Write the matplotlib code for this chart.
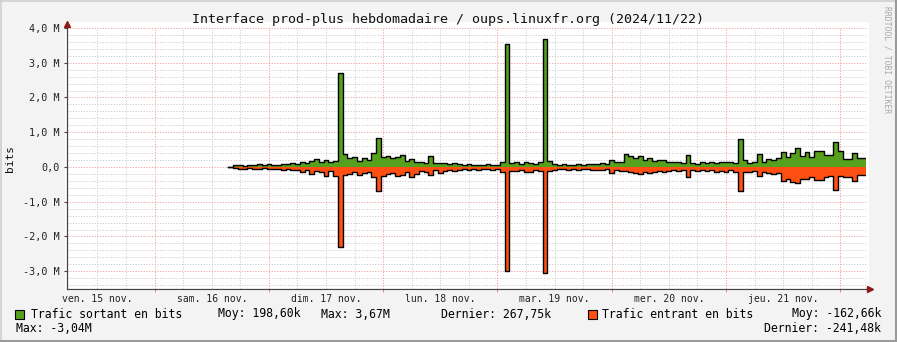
import numpy as np
import matplotlib
matplotlib.use("Agg")
import matplotlib.pyplot as plt
from matplotlib.patches import Rectangle

plt.rcParams['font.family'] = ['DejaVu Sans Mono']

# trafic en kbit/s, un point par heure, a partir du sam. 16 nov. 15h30
debut_h = 15.5   # heures depuis sam. 16 nov. 00:00
sortant = [10, 50, 60, 40, 70, 60, 80, 60, 90, 70,
           60, 100, 80, 120, 100, 150, 120, 180, 230, 150,
           200, 130, 170, 2700, 370, 250, 300, 180, 250, 200,
           400, 820, 280, 330, 250, 300, 340, 180, 220, 150,
           130, 120, 330, 120, 110, 120, 100, 110, 90, 70,
           80, 60, 70, 60, 80, 60, 70, 150, 3550, 110,
           130, 100, 140, 110, 90, 130, 3670, 160, 90, 60,
           80, 70, 60, 80, 70, 90, 100, 80, 110, 100,
           200, 130, 150, 360, 330, 270, 310, 200, 260, 180,
           210, 190, 150, 130, 140, 120, 350, 120, 100, 140,
           110, 150, 120, 150, 130, 140, 120, 800, 200, 110,
           140, 370, 140, 230, 200, 250, 420, 290, 400, 540,
           320, 420, 300, 450, 450, 350, 350, 720, 470, 220,
           230, 410, 250, 268]
entrant = [10, 40, 50, 60, 40, 50, 60, 40, 70, 60,
           50, 80, 60, 80, 100, 140, 80, 200, 120, 150,
           250, 120, 260, 2300, 230, 200, 150, 220, 160, 140,
           300, 700, 250, 200, 180, 250, 220, 150, 280, 200,
           120, 150, 230, 100, 180, 120, 100, 120, 90, 70,
           100, 60, 80, 60, 70, 80, 50, 130, 3000, 120,
           110, 100, 140, 130, 90, 120, 3040, 120, 80, 70,
           60, 80, 70, 90, 70, 60, 100, 80, 90, 70,
           170, 100, 110, 120, 150, 160, 200, 130, 180, 150,
           120, 140, 110, 100, 120, 100, 300, 90, 110, 80,
           120, 100, 140, 110, 130, 100, 150, 700, 150, 130,
           120, 260, 150, 170, 200, 180, 390, 350, 430, 470,
           340, 360, 300, 370, 380, 300, 250, 660, 250, 300,
           280, 390, 230, 241]

jours = ["ven. 15 nov.", "sam. 16 nov.", "dim. 17 nov.", "lun. 18 nov.",
         "mar. 19 nov.", "mer. 20 nov.", "jeu. 21 nov."]
jours_h = [-12, 12, 36, 60, 84, 108, 132]
yticks = [-3, -2, -1, 0, 1, 2, 3, 4]
ylabels = ["-3,0 M", "-2,0 M", "-1,0 M", "0,0", "1,0 M", "2,0 M", "3,0 M", "4,0 M"]

titre = "Interface prod-plus hebdomadaire / oups.linuxfr.org (2024/11/22)"

W, H = 897, 342
fig = plt.figure(figsize=(W / 100, H / 100), dpi=100)
fig.patch.set_facecolor('#F3F3F3')

def fx(px):
    return px / W

def fy(py):
    return 1 - py / H

# fond blanc du canevas (derriere les axes)
canevas = fig.add_axes([fx(65), fy(291), fx(869) - fx(65), fy(22) - fy(291)], zorder=-5)
canevas.axis('off')
canevas.add_patch(Rectangle((0, 0), 1, 1, transform=canevas.transAxes, facecolor='white', edgecolor='none'))

# cadre
fig.add_artist(plt.Line2D([0, 1], [fy(0.5), fy(0.5)], transform=fig.transFigure, color='#D0D0D0', lw=1.2))
fig.add_artist(plt.Line2D([fx(0.5), fx(0.5)], [0, 1], transform=fig.transFigure, color='#D0D0D0', lw=1.2))
fig.add_artist(plt.Line2D([0, 1], [fy(341), fy(341)], transform=fig.transFigure, color='#9A9A9A', lw=1.5))
fig.add_artist(plt.Line2D([fx(896), fx(896)], [0, 1], transform=fig.transFigure, color='#9A9A9A', lw=1.5))

xmin, xmax = -18.4, 149.4
ymin, ymax = -3.5, 4.0
ax = fig.add_axes([fx(67), fy(288.6), fx(866) - fx(67), fy(28) - fy(288.6)])
ax.set_xlim(xmin, xmax)
ax.set_ylim(ymin, ymax)
ax.set_facecolor('white')
for s in ['top', 'right']:
    ax.spines[s].set_visible(False)
for s in ['left', 'bottom']:
    ax.spines[s].set_color('#444444')
    ax.spines[s].set_linewidth(0.9)

# grille
dots = (0, (1.2, 1.6))
for v in np.arange(-3.4, 4.01, 0.2):
    if abs(v - round(v)) > 1e-6:
        ax.axhline(v, color='#CDCDCD', lw=0.7, ls=dots, zorder=1)
for h in np.arange(-12, xmax, 6):
    if h % 24 != 0:
        ax.axvline(h, color='#CDCDCD', lw=0.7, ls=dots, zorder=1)
for v in yticks:
    ax.axhline(v, color='#F2A0A0', lw=0.7, ls=dots, zorder=1.5)
for h in np.arange(0, xmax, 24):
    ax.axvline(h, color='#F2A0A0', lw=0.7, ls=dots, zorder=1.5)

# donnees
out_m = np.array(sortant) / 1000.0
in_m = -np.array(entrant) / 1000.0
t = debut_h + np.arange(len(out_m) + 1)
out_e = np.append(out_m, out_m[-1])
in_e = np.append(in_m, in_m[-1])
ax.fill_between(t, 0, out_e, step='post', color='#55A01C', lw=0, zorder=2)
ax.fill_between(t, 0, in_e, step='post', color='#FF4F12', lw=0, zorder=2)
ax.step(t, out_e, where='post', color='black', lw=1.0, zorder=3)
ax.step(t, in_e, where='post', color='black', lw=1.0, zorder=3)

# axes
ax.set_yticks(yticks)
ax.set_yticklabels(ylabels, fontsize=7.3, color='#222222')
ax.set_xticks(jours_h)
ax.set_xticklabels(jours, fontsize=7.0, color='#222222')
ax.set_xticks(np.arange(0, xmax, 24), minor=True)
ax.tick_params(axis='y', length=2.5, width=0.8, color='#444444', pad=2.5)
ax.tick_params(axis='x', which='major', length=0, pad=4)
ax.tick_params(axis='x', which='minor', length=2.5, width=0.7, color='#F08080')
ax.plot([xmin], [ymax + 0.12], marker='^', ms=4, color='#8B1A1A', clip_on=False, zorder=5)
ax.plot([xmax + 0.9], [ymin], marker='>', ms=4, color='#8B1A1A', clip_on=False, zorder=5)
ax.plot([xmin, xmin], [ymax, ymax + 0.12], color='#444444', lw=0.9, clip_on=False)
ax.plot([xmax, xmax + 0.9], [ymin, ymin], color='#444444', lw=0.9, clip_on=False)

# textes
fig.text(fx(448), fy(19.5), titre, ha='center', va='center', fontsize=9.6, color='#111111')
fig.text(fx(10), fy(158), "bits", rotation=90, ha='center', va='center', fontsize=8, color='#111111')
fig.text(fx(887), fy(60), "RRDTOOL / TOBI OETIKER", rotation=270, ha='center', va='center',
         fontsize=5.8, color='#A8A8A8')

# legende
lg = 8.3
y1, y2 = fy(314), fy(328)
fig.patches.append(Rectangle((fx(15), fy(318.5)), fx(9), fy(309.5) - fy(318.5), transform=fig.transFigure,
                             facecolor='#55A01C', edgecolor='black', lw=0.8))
fig.patches.append(Rectangle((fx(588), fy(318.5)), fx(9), fy(309.5) - fy(318.5), transform=fig.transFigure,
                             facecolor='#FF4F12', edgecolor='black', lw=0.8))
fig.text(fx(31), y1, "Trafic sortant en bits", va='center', fontsize=lg)
fig.text(fx(218), y1, "Moy: 198,60k", va='center', fontsize=lg)
fig.text(fx(321), y1, "Max: 3,67M", va='center', fontsize=lg)
fig.text(fx(441), y1, "Dernier: 267,75k", va='center', fontsize=lg)
fig.text(fx(602), y1, "Trafic entrant en bits", va='center', fontsize=lg)
fig.text(fx(881), y1, "Moy: -162,66k", ha='right', va='center', fontsize=lg)
fig.text(fx(16), y2, "Max: -3,04M", va='center', fontsize=lg)
fig.text(fx(881), y2, "Dernier: -241,48k", ha='right', va='center', fontsize=lg)

fig.savefig("out.png", dpi=100, facecolor=fig.get_facecolor())
